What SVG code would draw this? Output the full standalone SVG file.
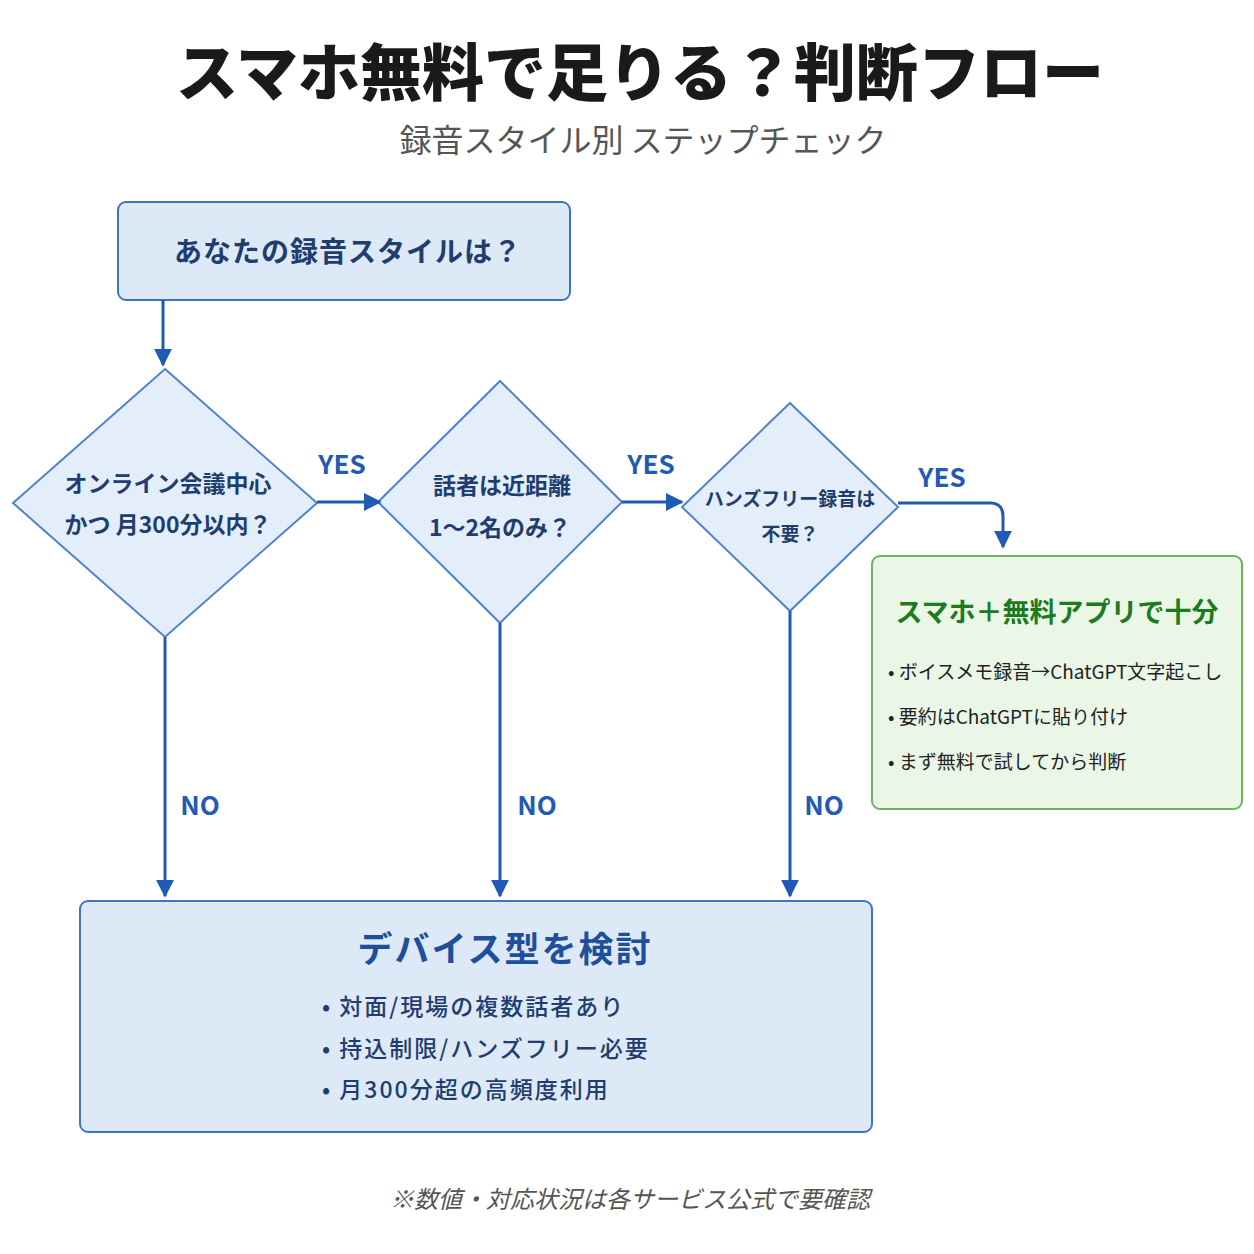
<svg xmlns="http://www.w3.org/2000/svg" width="1254" height="1254" viewBox="0 0 1254 1254">
<defs>
<marker id="ah" viewBox="0 0 10 10" refX="9" refY="5" markerWidth="18" markerHeight="18" orient="auto" markerUnits="userSpaceOnUse"><path d="M0,0 L10,5 L0,10 z" fill="#1f5bb5"/></marker>
<style>
text{font-family:"Noto Sans CJK JP","Noto Sans",sans-serif}
.box{fill:#dde9f7;stroke:#3f74c4;stroke-width:2}
.dia{fill:#e4eefa;stroke:#4f82cc;stroke-width:2}
.q{font-size:23px;font-weight:bold;fill:#1f3d6e;text-anchor:middle}
.q3{font-size:19px;font-weight:bold;fill:#1f3d6e;text-anchor:middle}
.lbl{font-size:26px;font-weight:bold;fill:#1f5bb5;text-anchor:middle}
.ln{stroke:#1f5bb5;stroke-width:3;fill:none}
</style>
</defs>
<rect width="1254" height="1254" fill="#ffffff"/>
<text x="640" y="96" font-size="62" font-weight="900" fill="#1a1a1a" text-anchor="middle">スマホ無料で足りる？判断フロー</text>
<text x="643" y="152" font-size="32" fill="#555" text-anchor="middle">録音スタイル別 ステップチェック</text>
<g id="start"><rect class="box" x="118" y="202" width="452" height="98" rx="8"/><text x="348" y="262" font-size="28" font-weight="bold" fill="#1f3d6e" text-anchor="middle" letter-spacing="1">あなたの録音スタイルは？</text></g>
<g id="q1"><polygon class="dia" points="165,369 317,503 165,637 13,503"/><text class="q" x="168" y="492">オンライン会議中心</text><text class="q" x="168" y="533">かつ 月300分以内？</text></g>
<g id="q2"><polygon class="dia" points="500,381 622,502 500,623 378,502"/><text class="q" x="502" y="494">話者は近距離</text><text class="q" x="500" y="536">1〜2名のみ？</text></g>
<g id="q3"><polygon class="dia" points="790,403 898,507 790,611 682,507"/><text class="q3" x="790" y="506">ハンズフリー録音は</text><text class="q3" x="790" y="541">不要？</text></g>
<g id="free"><rect x="872" y="556" width="370" height="253" rx="8" fill="#eaf6e6" stroke="#6bb460" stroke-width="2"/>
<text x="1057" y="622" font-size="27" font-weight="bold" fill="#1e7a1e" text-anchor="middle">スマホ＋無料アプリで十分</text>
<g font-size="19" fill="#222"><text x="888" y="679">• ボイスメモ録音→ChatGPT文字起こし</text><text x="888" y="724">• 要約はChatGPTに貼り付け</text><text x="888" y="769">• まず無料で試してから判断</text></g></g>
<g id="device"><rect class="box" x="80" y="901" width="792" height="231" rx="8"/>
<text x="505" y="962" font-size="35" font-weight="bold" fill="#1f4f9c" text-anchor="middle" letter-spacing="2">デバイス型を検討</text>
<g font-size="23" font-weight="500" fill="#1f3d6e" letter-spacing="2"><text x="322" y="1015">• 対面/現場の複数話者あり</text><text x="322" y="1057">• 持込制限/ハンズフリー必要</text><text x="322" y="1098">• 月300分超の高頻度利用</text></g></g>
<g id="connectors">
<line class="ln" x1="163" y1="300" x2="163" y2="365" marker-end="url(#ah)"/>
<line class="ln" x1="317" y1="502" x2="380" y2="502" marker-end="url(#ah)"/>
<line class="ln" x1="622" y1="502" x2="682" y2="502" marker-end="url(#ah)"/>
<path class="ln" d="M898,503 L990,503 Q1003,503 1003,516 L1003,547" marker-end="url(#ah)"/>
<line class="ln" x1="165" y1="637" x2="165" y2="896" marker-end="url(#ah)"/>
<line class="ln" x1="500" y1="623" x2="500" y2="896" marker-end="url(#ah)"/>
<line class="ln" x1="790" y1="611" x2="790" y2="896" marker-end="url(#ah)"/>
<text class="lbl" x="342" y="474">YES</text><text class="lbl" x="651" y="474">YES</text><text class="lbl" x="942" y="487">YES</text>
<text class="lbl" x="200" y="815">NO</text><text class="lbl" x="537" y="815">NO</text><text class="lbl" x="824" y="815">NO</text>
</g>
<text x="630" y="1208" font-size="24" font-style="italic" fill="#555" text-anchor="middle">※数値・対応状況は各サービス公式で要確認</text>
</svg>
